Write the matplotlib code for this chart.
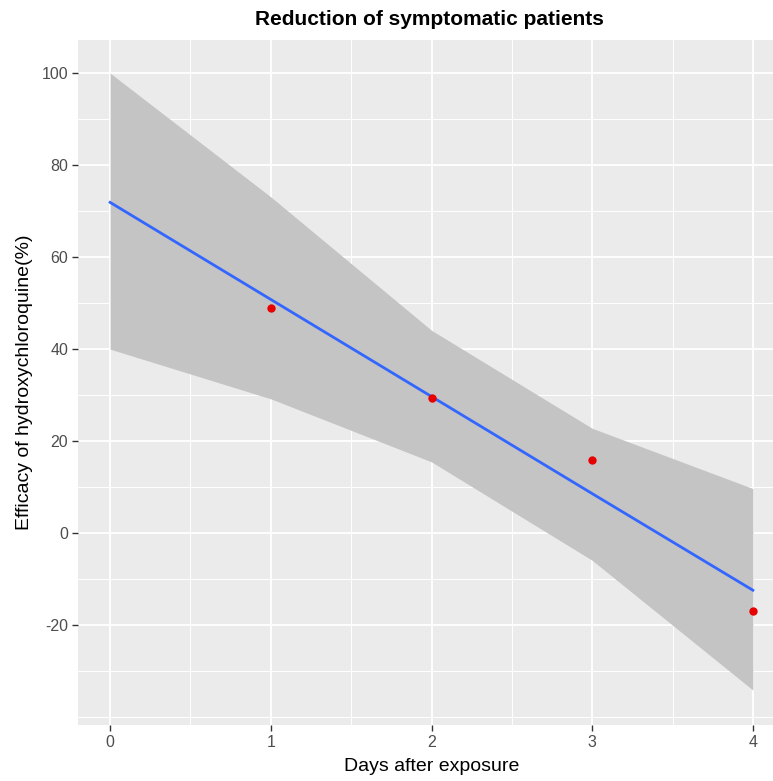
import numpy as np
import matplotlib.pyplot as plt
from matplotlib.ticker import FixedLocator

# observed points
days = [1, 2, 3, 4]
efficacy = [48.9, 29.3, 15.9, -17.0]

# fitted line and confidence band
fit_x = [0, 1, 2, 3, 4]
fit_y = [71.9, 50.8, 29.7, 8.6, -12.4]
band_upper = [100.0, 73.1, 44.1, 22.8, 9.7]
band_lower = [40.0, 29.2, 15.5, -5.9, -34.1]

plt.rcParams['font.family'] = ['Liberation Sans', 'DejaVu Sans']
plt.rcParams['axes.unicode_minus'] = False

fig = plt.figure(figsize=(7.73, 7.81), dpi=100)
ax = fig.add_axes([78 / 773, 56 / 781, 707 / 773, 685 / 781])
ax.set_facecolor('#EBEBEB')

ax.fill_between(fit_x, band_lower, band_upper, color='#C4C4C4', lw=0, zorder=2)
ax.plot(fit_x, fit_y, color='#3366FF', lw=2.0, zorder=3)
ax.scatter(days, efficacy, color='#E60000', s=36, zorder=4, lw=0)

ax.set_xlim(-0.2, 4.2)
ax.set_ylim(-41.7, 107.2)
ax.xaxis.set_major_locator(FixedLocator([0, 1, 2, 3, 4]))
ax.xaxis.set_minor_locator(FixedLocator([0.5, 1.5, 2.5, 3.5]))
ax.yaxis.set_major_locator(FixedLocator([-20, 0, 20, 40, 60, 80, 100]))
ax.yaxis.set_minor_locator(FixedLocator([-40, -30, -10, 10, 30, 50, 70, 90]))

ax.grid(which='major', color='white', lw=1.3, zorder=1)
ax.grid(which='minor', color='white', lw=0.7, zorder=1)
ax.set_axisbelow(True)
for s in ax.spines.values():
    s.set_visible(False)

ax.tick_params(which='major', length=4, width=1, color='#333333',
               labelsize=11.5, labelcolor='#4D4D4D', pad=3)
ax.tick_params(which='minor', length=0)

ax.set_xlabel('Days after exposure', fontsize=14, labelpad=6)
ax.set_ylabel('Efficacy of hydroxychloroquine(%)', fontsize=14, labelpad=6)
fig.text(0.555, 0.975, 'Reduction of symptomatic patients', ha='center', va='center',
         fontsize=15, fontweight='bold')

fig.savefig('out.png', dpi=100)
